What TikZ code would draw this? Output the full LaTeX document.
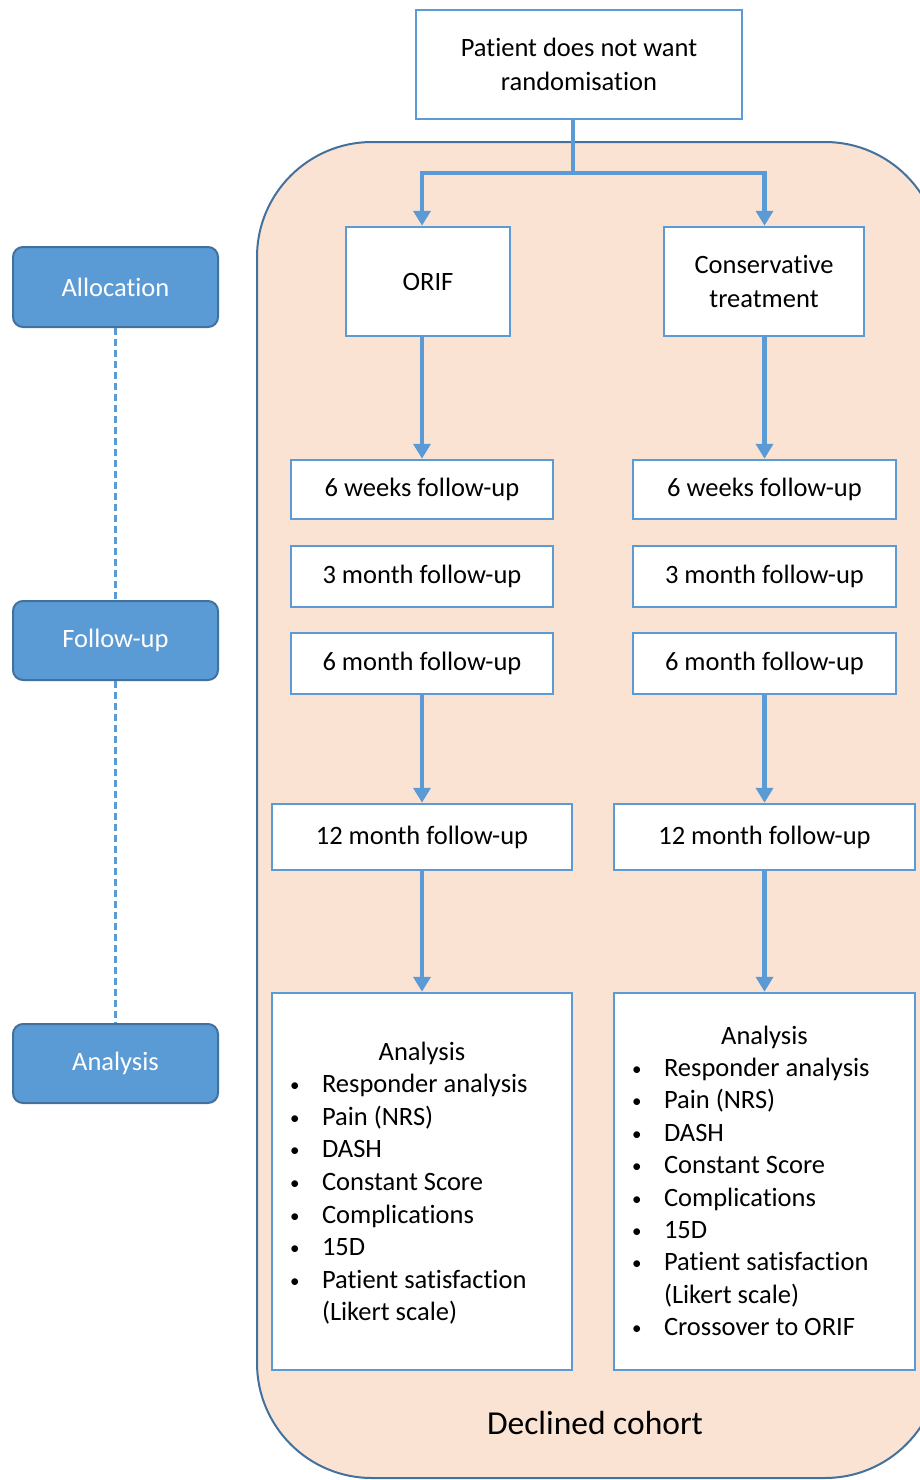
\documentclass[tikz,border=0pt]{standalone}
\usepackage{fontspec}
\setmainfont[Ligatures=NoCommon]{Carlito}
\usetikzlibrary{arrows.meta}
\definecolor{boxblue}{HTML}{5B9BD5}
\definecolor{darkblue}{HTML}{41719C}
\definecolor{peach}{HTML}{FBE3D4}
\newcommand\bulitem[1]{\par\hspace*{18pt}\makebox[32pt][l]{\raisebox{1pt}{\fontsize{19}{19}\selectfont\textbullet}}#1}
\newcommand\contline[1]{\par\hspace*{50pt}#1}
\tikzset{
  wbox/.style={draw=boxblue, line width=2.5pt, fill=white, inner sep=0pt, align=center,
    font=\fontsize{26.5}{34}\selectfont},
  sidebox/.style={draw=darkblue, line width=2pt, fill=boxblue, rounded corners=10pt,
    inner sep=0pt, minimum width=205pt, text=white, font=\fontsize{26.5}{32}\selectfont},
  flow/.style={draw=boxblue, line width=4.5pt},
  flowarrow/.style={flow, -{Triangle[length=15pt,width=17pt]}},
  sidedash/.style={draw=boxblue, line width=2.2pt, dash pattern=on 7pt off 4pt},
}
\begin{document}
\begin{tikzpicture}[x=1pt, y=-1pt]
\useasboundingbox (0,0) rectangle (920,1480);
\clip (0,0) rectangle (920,1480);
% cohort background
\draw[draw=darkblue, line width=2pt, fill=peach, rounded corners=115pt] (257,142) rectangle (940,1478);
\node[font=\fontsize{33.5}{40}\selectfont] (cohort) at (595,1423) {Declined cohort};

% main boxes
\node[wbox, minimum width=326pt, minimum height=109pt] (top) at (579,64.5) {Patient does not want\\randomisation};
\node[wbox, minimum width=164pt, minimum height=109pt] (orif) at (428,281.5) {ORIF};
\node[wbox, minimum width=200pt, minimum height=109pt] (cons) at (764,281.5) {Conservative\\treatment};

\node[wbox, minimum width=262pt, minimum height=59pt] (w6L) at (422,489.5) {6 weeks follow-up};
\node[wbox, minimum width=263pt, minimum height=59pt] (w6R) at (764.5,489.5) {6 weeks follow-up};
\node[wbox, minimum width=262pt, minimum height=61pt] (m3L) at (422,576.5) {3 month follow-up};
\node[wbox, minimum width=263pt, minimum height=61pt] (m3R) at (764.5,576.5) {3 month follow-up};
\node[wbox, minimum width=262pt, minimum height=61pt] (m6L) at (422,663.5) {6 month follow-up};
\node[wbox, minimum width=263pt, minimum height=61pt] (m6R) at (764.5,663.5) {6 month follow-up};
\node[wbox, minimum width=300pt, minimum height=66pt] (m12L) at (422,837) {12 month follow-up};
\node[wbox, minimum width=301pt, minimum height=66pt] (m12R) at (764.5,837) {12 month follow-up};

\node[wbox, align=left] (anL) at (422,1181.5) {\parbox[t][377pt][t]{300pt}{\setlength\parindent{0pt}\setlength\parskip{0pt}\fontsize{26.5}{32.6}\selectfont
\rule{0pt}{67pt}\makebox[300pt]{Analysis}%
\bulitem{Responder analysis}%
\bulitem{Pain (NRS)}%
\bulitem{DASH}%
\bulitem{Constant Score}%
\bulitem{Complications}%
\bulitem{15D}%
\bulitem{Patient satisfaction}%
\contline{(Likert scale)}}};

\node[wbox, align=left] (anR) at (764.5,1181.5) {\parbox[t][377pt][t]{301pt}{\setlength\parindent{0pt}\setlength\parskip{0pt}\fontsize{26.5}{32.4}\selectfont
\rule{0pt}{51pt}\makebox[301pt]{Analysis}%
\bulitem{Responder analysis}%
\bulitem{Pain (NRS)}%
\bulitem{DASH}%
\bulitem{Constant Score}%
\bulitem{Complications}%
\bulitem{15D}%
\bulitem{Patient satisfaction}%
\contline{(Likert scale)}%
\bulitem{Crossover to ORIF}}};

% side labels
\node[sidebox, minimum height=80pt] (alloc) at (115.5,287) {Allocation};
\node[sidebox, minimum height=79pt] (fup) at (115.5,640.5) {Follow-up};
\node[sidebox, minimum height=79pt] (anal) at (115.5,1063.5) {Analysis};
\draw[sidedash] (alloc.south) -- (fup.north);
\draw[sidedash] (fup.south) -- (anal.north);

% connectors
\coordinate (split) at (573,173);
\draw[flow] ([xshift=-6pt]top.south) -- (split);
\draw[flowarrow] (split) -| (w6L.north |- orif.north);
\draw[flowarrow] (split) -| (w6R.north |- cons.north);
\draw[flowarrow] (w6L.north |- orif.south) -- (w6L.north);
\draw[flowarrow] (w6R.north |- cons.south) -- (w6R.north);
\draw[flowarrow] (m6L.south) -- (m12L.north);
\draw[flowarrow] (m6R.south) -- (m12R.north);
\draw[flowarrow] (m12L.south) -- (anL.north);
\draw[flowarrow] (m12R.south) -- (anR.north);
\end{tikzpicture}
\end{document}
